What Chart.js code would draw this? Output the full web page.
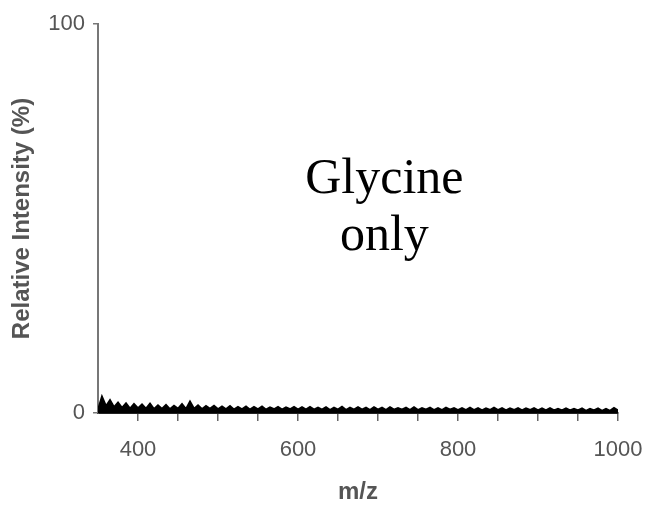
<!DOCTYPE html>
<html>
<head>
<meta charset="utf-8">
<script src="https://cdn.jsdelivr.net/npm/chart.js@4/dist/chart.umd.min.js"></script>
<style>
  html, body { margin: 0; padding: 0; background: #ffffff; }
  #wrap { width: 650px; height: 509px; }
</style>
</head>
<body>
<div id="wrap"><canvas id="spectrum"></canvas></div>
<script>
// m/z 350 〜 1000 を 5 刻みで読み取った値
const mzStart = 350;
const mzStep = 5;
const intensity = [
    0.6, 4.0, 1.6, 3.2, 1.4, 2.6, 1.2, 2.4, 1.0, 2.2, 1.1,
    2.1, 1.0, 2.3, 0.9, 1.9, 1.0, 2.0, 0.9, 1.8, 1.0, 2.2, 0.9, 2.8, 1.0, 1.9, 0.9, 1.7, 1.0, 1.8, 0.9,
    1.6, 0.9, 1.7, 0.8, 1.5, 0.9, 1.6, 0.8, 1.5, 0.9, 1.6, 0.8, 1.4, 0.9, 1.5, 0.8, 1.4, 0.9, 1.5, 0.8,
    1.4, 0.8, 1.5, 0.8, 1.3, 0.8, 1.4, 0.7, 1.3, 0.8, 1.5, 0.7, 1.3, 0.8, 1.4, 0.8, 1.3, 0.7, 1.4, 0.8,
    1.3, 0.7, 1.4, 0.8, 1.2, 0.8, 1.3, 0.7, 1.4, 0.7, 1.2, 0.8, 1.3, 0.7, 1.2, 0.7, 1.3, 0.8, 1.2, 0.7,
    1.2, 0.7, 1.3, 0.7, 1.2, 0.6, 1.1, 0.7, 1.3, 0.7, 1.2, 0.6, 1.1, 0.7, 1.2, 0.6, 1.1, 0.7, 1.2, 0.6,
    1.1, 0.6, 1.2, 0.6, 1.0, 0.6, 1.1, 0.6, 1.0, 0.6, 1.1, 0.5, 1.0, 0.6, 1.1, 0.5, 1.0, 0.5, 1.2, 0.6
];
const mz = intensity.map((v, i) => mzStart + i * mzStep);

// 目盛
const xTicks = [400, 450, 500, 550, 600, 650, 700, 750, 800, 850, 900, 950, 1000];
const xTickLabels = ['400', '600', '800', '1000'];
const yTicks = [0, 100];

// 注記テキスト
const noteLines = ['Glycine', 'only'];

const points = mz.map((x, i) => ({ x: x, y: intensity[i] }));

// 注記を描くプラグイン
const notePlugin = {
    id: 'note',
    afterDraw(chart) {
        const ctx = chart.ctx;
        const xs = chart.scales.x;
        const ys = chart.scales.y;
        ctx.save();
        ctx.fillStyle = '#000000';
        ctx.font = '50px "Liberation Serif", serif';
        ctx.textAlign = 'center';
        ctx.textBaseline = 'alphabetic';
        ctx.fillText(noteLines[0], xs.getPixelForValue(708), ys.getPixelForValue(56.5));
        ctx.fillText(noteLines[1], xs.getPixelForValue(708), ys.getPixelForValue(42));
        ctx.restore();
    }
};

const axisFont = { family: '"Liberation Sans", Arial, sans-serif', size: 22 };
const titleFont = { family: '"Liberation Sans", Arial, sans-serif', size: 24, weight: 'bold' };

new Chart(document.getElementById('spectrum'), {
    type: 'line',
    data: {
        datasets: [{
            data: points,
            borderColor: '#000000',
            backgroundColor: '#000000',
            borderWidth: 2.5,
            fill: 'origin',
            pointRadius: 0,
            tension: 0,
        }]
    },
    options: {
        responsive: true,
        maintainAspectRatio: false,
        animation: false,
        layout: { padding: { top: 24, right: 32, left: 0, bottom: 0 } },
        plugins: {
            legend: { display: false },
            tooltip: { enabled: false },
        },
        scales: {
            x: {
                type: 'linear',
                min: 350,
                max: 1000,
                afterBuildTicks: scale => { scale.ticks = xTicks.map(v => ({ value: v })); },
                afterFit: scale => {
                    scale.height = 96;
                    scale.paddingLeft = 0;
                    scale.paddingRight = 0;
                },
                border: { color: '#222222', width: 2 },
                grid: { drawOnChartArea: false, tickLength: 8, color: '#666666', lineWidth: 1.5 },
                ticks: {
                    autoSkip: false,
                    maxRotation: 0,
                    padding: 16,
                    color: '#555555',
                    font: axisFont,
                    callback: v => xTickLabels.includes(String(v)) ? String(v) : '',
                },
                title: { display: true, text: 'm/z', color: '#555555', font: titleFont, padding: { top: 0, bottom: 2 } },
            },
            y: {
                min: 0,
                max: 100,
                afterBuildTicks: scale => { scale.ticks = yTicks.map(v => ({ value: v })); },
                afterFit: scale => {
                    scale.width = 98;
                    scale.paddingTop = 0;
                    scale.paddingBottom = 0;
                },
                border: { color: '#777777', width: 2 },
                grid: { drawOnChartArea: false, tickLength: 5, color: '#777777', lineWidth: 1.5 },
                ticks: { padding: 8, color: '#555555', font: axisFont },
                title: { display: true, text: 'Relative Intensity (%)', color: '#555555', font: titleFont, padding: { top: 8, bottom: 0 } },
            },
        },
    },
    plugins: [notePlugin],
});
</script>
</body>
</html>
